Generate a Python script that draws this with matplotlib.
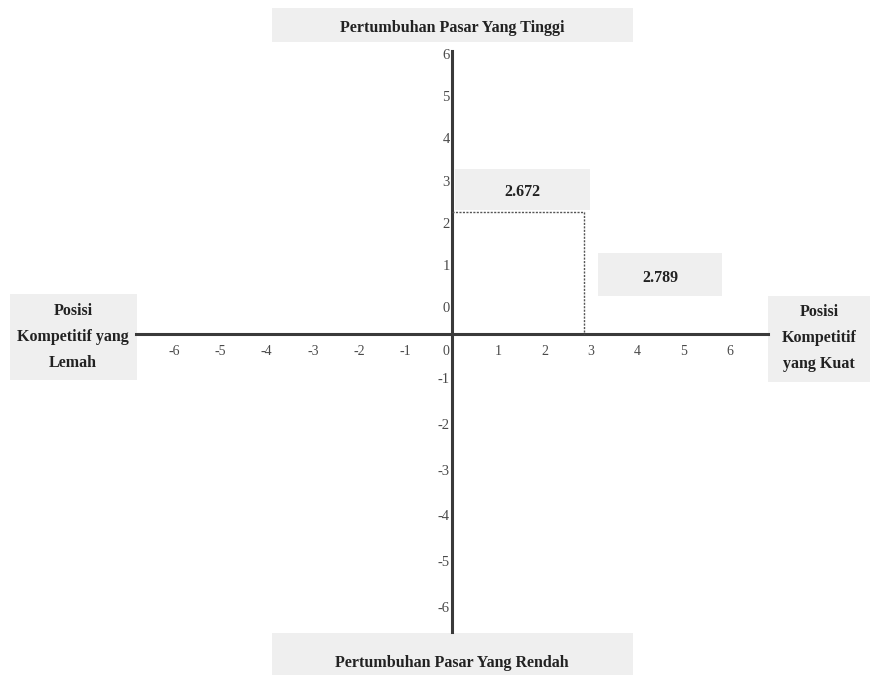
import matplotlib.pyplot as plt
from matplotlib.patches import Rectangle

# values
x_score = 2.789   # kekuatan posisi kompetitif (horizontal)
y_score = 2.672   # pertumbuhan pasar (vertikal)
x_ticks = [-6, -5, -4, -3, -2, -1, 0, 1, 2, 3, 4, 5, 6]
y_ticks = [6, 5, 4, 3, 2, 1, -1, -2, -3, -4, -5, -6]
top_label = 'Pertumbuhan Pasar Yang Tinggi'
bottom_label = 'Pertumbuhan Pasar Yang Rendah'
left_label = 'Posisi\nKompetitif yang\nLemah'
right_label = 'Posisi\nKompetitif\nyang Kuat'

W, H = 873, 675
serif = ['Liberation Serif', 'DejaVu Serif']
box_color = '#efefef'
tick_color = '#4a4a4a'

fig = plt.figure(figsize=(W / 100, H / 100), dpi=100)
ax = fig.add_axes([0, 0, 1, 1])
# data scale: x=0 at pixel 452, 47.5 px per unit; y=0 at pixel 334, 45.7 px per unit
ax.set_xlim(-452 / 47.5, (W - 452) / 47.5)
ax.set_ylim((334 - H) / 45.7, 334 / 45.7)
ax.axis('off')


def px_box(x0, y0, x1, y1):
    # grey label box given in pixel corners (top-left origin)
    ax.add_patch(Rectangle((x0 / W, 1 - y1 / H), (x1 - x0) / W, (y1 - y0) / H,
                           transform=ax.transAxes, facecolor=box_color,
                           edgecolor='none', zorder=0))


def px_text(cx, cy, s, size=11.5, ls=1.2):
    ax.text(cx / W, 1 - cy / H, s, transform=ax.transAxes, ha='center', va='center',
            fontsize=size, fontweight='bold', family=serif, color='#222222',
            linespacing=ls, zorder=3)


# main axes lines
ax.plot([-6.65, 6.65], [0, 0], color='#3a3a3a', lw=2.2, zorder=2)
ax.plot([0, 0], [-6.52, 6.2], color='#3a3a3a', lw=2.2, zorder=2)

# dotted rectangle for the position
ax.plot([0, x_score, x_score], [y_score, y_score, 0], color='#555555',
        lw=1.0, linestyle=(0, (1.5, 1)), zorder=2)

# tick labels (the upper ones sit a bit squeezed, as in the source)
for v in x_ticks:
    xpos = v * 0.975 - (0.12 if v == 0 else 0)
    ax.text(xpos, -0.38, str(v), ha='center', va='center',
            fontsize=10, family=serif, color=tick_color)
for v in y_ticks:
    ypos = 0.55 + v * 0.925 if v > 0 else v
    ax.text(-0.05, ypos, str(v), ha='right', va='center',
            fontsize=10.5, family=serif, color=tick_color)
ax.text(-0.05, 0.55, '0', ha='right', va='center', fontsize=10.5, family=serif,
        color=tick_color)

# label boxes
px_box(272, 8, 633, 42)
px_text(452, 28, top_label)
px_box(272, 633, 633, 675)
px_text(452, 663, bottom_label)
px_box(10, 294, 137, 380)
px_text(73, 337, left_label, ls=1.85)
px_box(768, 296, 870, 382)
px_text(819, 338, right_label, ls=1.85)

# value boxes
px_box(455, 169, 590, 210)
px_text(522, 192, f'{y_score:.3f}')
px_box(598, 253, 722, 296)
px_text(660, 278, f'{x_score:.3f}')

fig.savefig('out.png', dpi=100)
